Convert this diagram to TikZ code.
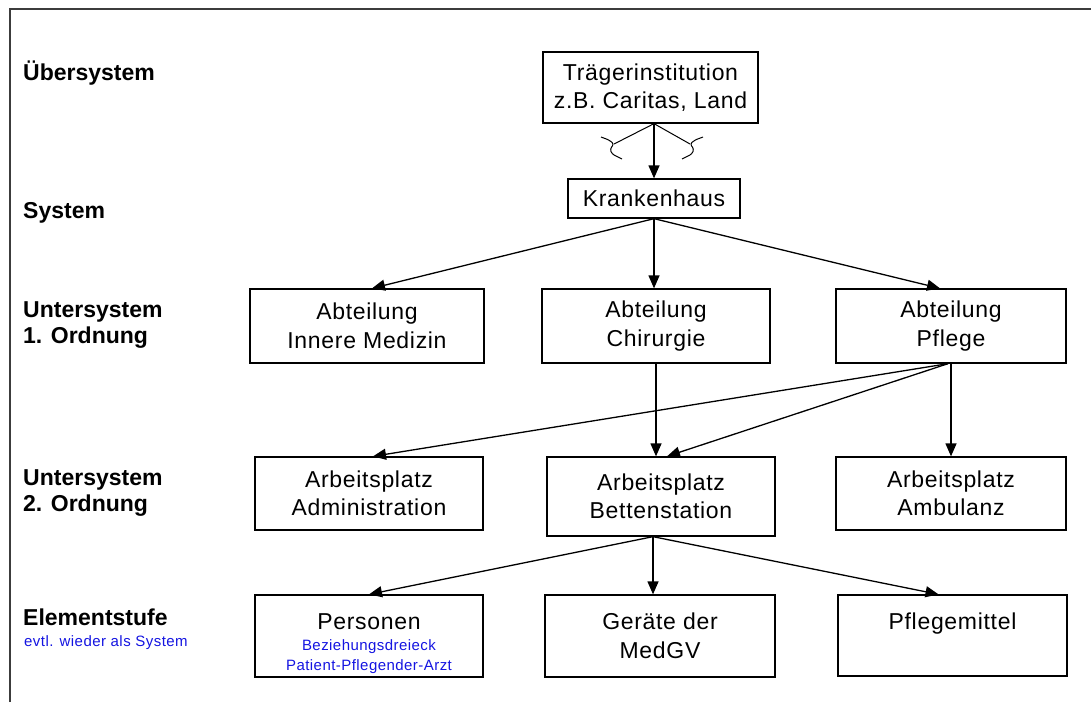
\documentclass[tikz,border=0pt]{standalone}
\usepackage{fontspec}
\setmainfont{Liberation Sans}
\newfontfamily\boxfont[LetterSpace=3]{Liberation Sans}
\newfontfamily\notefont[LetterSpace=3]{Liberation Sans}
\usetikzlibrary{arrows.meta}
\definecolor{notecol}{RGB}{20,20,225}
\definecolor{framecol}{RGB}{60,60,60}
\tikzset{
  box/.style={draw=black, line width=1.3pt, inner sep=0pt, align=center,
    font=\boxfont\fontsize{23}{28.5}\selectfont},
  level/.style={anchor=west, align=left, inner sep=0pt,
    font=\bfseries\fontsize{23}{26}\selectfont},
  note/.style={anchor=west, inner sep=0pt, text=notecol,
    font=\notefont\fontsize{15}{19}\selectfont},
  arr/.style={line width=1.3pt, -{Triangle[length=13pt,width=11pt]}},
  squiggle/.style={line width=1pt, rounded corners=2.5pt}
}
\begin{document}
\begin{tikzpicture}[x=1pt,y=-1pt]
  \useasboundingbox (0,0) rectangle (1091,702);
  % frame (top and left edges)
  \draw[framecol, line width=2pt] (10,702) -- (10,9) -- (1091,9);

  % level captions
  \node[level] (l0) at (23,73)  {Übersystem};
  \node[level] (l1) at (23,213) {System};
  \node[level] (l2) at (23,325) {Untersystem\\1. Ordnung};
  \node[level] (l3) at (23,493) {Untersystem\\2. Ordnung};
  \node[level] (l4) at (23,617) {Elementstufe};
  \node[note]  (l4n) at (24,643) {evtl. wieder als System};

  % boxes
  \node[box, minimum width=215pt, minimum height=71pt] (tr) at (650.5,87.5)
    {Trägerinstitution\\z.B. Caritas, Land};
  \node[box, minimum width=172pt, minimum height=39pt] (kh) at (654,198.5)
    {Krankenhaus};

  \node[box, minimum width=234pt, minimum height=74pt] (im) at (367,326)
    {Abteilung\\Innere Medizin};
  \node[box, minimum width=228pt, minimum height=74pt] (ch) at (656,326)
    {Abteilung\\Chirurgie};
  \node[box, minimum width=230pt, minimum height=74pt] (pf) at (951,326)
    {Abteilung\\Pflege};

  \node[box, minimum width=228pt, minimum height=73pt] (ad) at (369,493.5)
    {Arbeitsplatz\\Administration};
  \node[box, minimum width=228pt, minimum height=79pt] (bs) at (661,496.5)
    {Arbeitsplatz\\Bettenstation};
  \node[box, minimum width=230pt, minimum height=73pt] (am) at (951,493.5)
    {Arbeitsplatz\\Ambulanz};

  \node[box, text width=228pt, minimum height=82pt] (pe) at (369,636)
    {\vskip2pt
     Personen\par
     \notefont\fontsize{15}{19.5}\selectfont\color{notecol}\vskip2pt
     Beziehungsdreieck\par Patient-Pflegender-Arzt\par
     \vskip-2pt};
  \node[box, minimum width=230pt, minimum height=82pt] (ge) at (660,636)
    {Geräte der\\MedGV};
  \node[box, minimum width=229pt, minimum height=81pt] (pm) at (952.5,635.5)
    {Pflegemittel\\\mbox{}};

  % Traegerinstitution -> Krankenhaus, with the two squiggled side lines
  \coordinate (trb) at (kh.north |- tr.south);
  \draw[arr] (trb) -- (kh.north);
  \coordinate (sqL) at (614,144);
  \coordinate (sqR) at (690,144);
  \draw[squiggle] (trb) -- (sqL);
  \draw[squiggle] (trb) -- (sqR);
  \draw[squiggle] (601,137) -- (609,140) -- (sqL) -- (610,149) -- (612,154) -- (622,159);
  \draw[squiggle] (703,137) -- (695,140) -- (sqR) -- (694,149) -- (692,154) -- (682,159);

  % Krankenhaus -> departments
  \draw[arr] (kh.south) -- ([xshift=5pt]im.north);
  \draw[arr] (kh.south) -- (kh.south |- ch.north);
  \draw[arr] (kh.south) -- ([xshift=-11pt]pf.north);

  % departments -> workplaces
  \draw[arr] (ch.south) -- ([xshift=-5pt]bs.north);
  \coordinate (pfb) at ([xshift=-3pt]pf.south);
  \draw[arr] (pfb) -- ([xshift=4pt]ad.north);
  \draw[arr] (pfb) -- ([xshift=6pt]bs.north);
  \draw[arr] (pf.south) -- (am.north);

  % Bettenstation -> elements
  \coordinate (bsb) at ([xshift=-8pt]bs.south);
  \draw[arr] (bsb) -- (pe.north);
  \draw[arr] (bsb) -- (bsb |- ge.north);
  \draw[arr] (bsb) -- ([xshift=-14pt]pm.north);
\end{tikzpicture}
\end{document}
